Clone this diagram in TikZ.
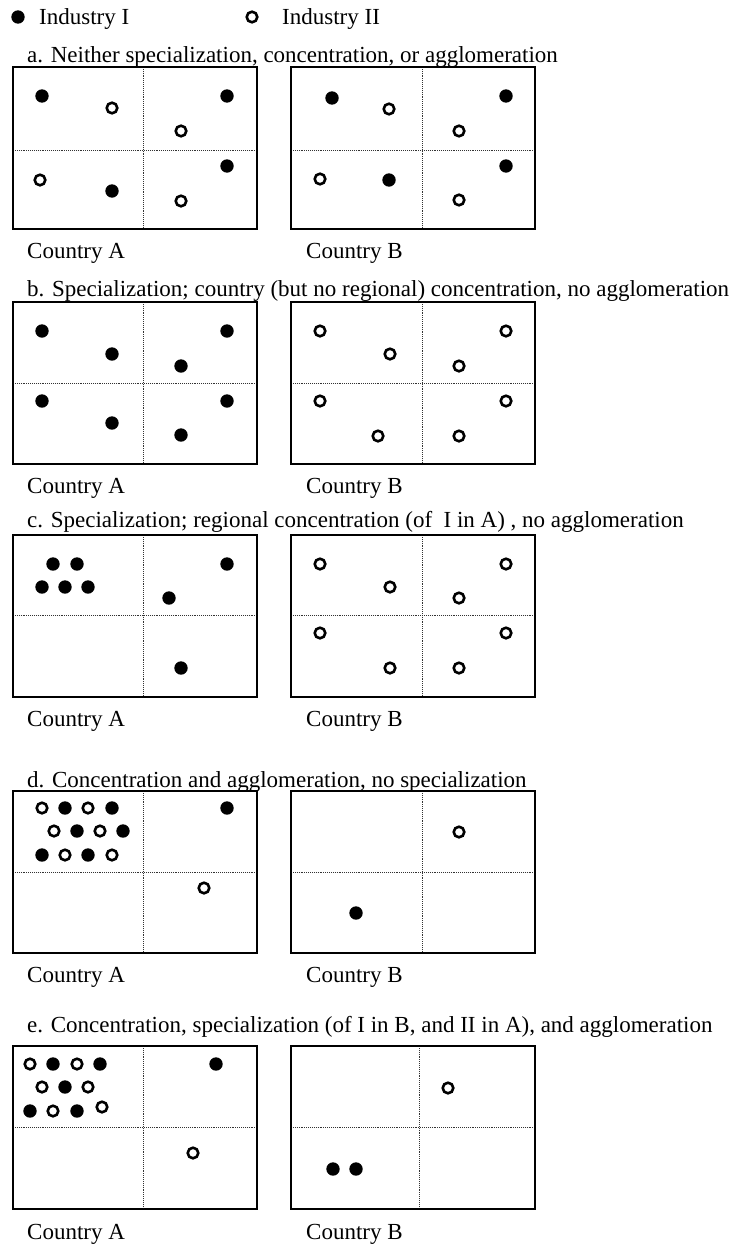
\documentclass[tikz,border=0pt]{standalone}
\usepackage{fontspec}
\setmainfont{Liberation Serif}
\begin{document}
\begin{tikzpicture}[x=1pt,y=-1pt,
  fdot/.style={circle,fill=black,inner sep=0pt,minimum size=13.4pt},
  odot/.style={circle,draw=black,line width=2.6pt,inner sep=0pt,minimum size=10.6pt},
  boxline/.style={line width=1.8pt},
  divline/.style={line width=0.7pt,black!80,dash pattern=on 0.8pt off 1.1pt},
  lbl/.style={anchor=base west,inner sep=0pt,font=\fontsize{23}{27}\selectfont}]
\useasboundingbox (0,0) rectangle (736,1247);
% legend
\node[fdot] (legF) at (18,17) {};
\node[lbl] (legFt) at (39,25) {Industry I};
\node[odot] (legO) at (252,17) {};
\node[lbl] (legOt) at (282,25) {Industry II};
% titles
\node[lbl] (ta) at (27,63) {a. Neither specialization, concentration, or agglomeration};
\node[lbl] (tb) at (27,296) {b. Specialization; country (but no regional) concentration, no agglomeration};
\node[lbl] (tc) at (27,527) {c. Specialization; regional concentration (of\ \ I in A)\ , no agglomeration};
\node[lbl] (td) at (27,787) {d. Concentration and agglomeration, no specialization};
\node[lbl] (te) at (27,1032) {e. Concentration, specialization (of I in B, and II in A), and agglomeration};
% panel a
\begin{scope}[shift={(0,67)},name prefix=a-]
  \draw[divline] (143,0) -- (143,162); \draw[divline] (13,83) -- (257,83);
  \draw[divline] (422,0) -- (422,162); \draw[divline] (291,83) -- (535,83);
  \draw[boxline] (13,0) rectangle (257,162);
  \draw[boxline] (291,0) rectangle (535,162);
  \node[fdot] (A1) at (42,29) {}; \node[odot] (A2) at (112,41) {};
  \node[odot] (A3) at (181,64) {}; \node[fdot] (A4) at (227,29) {};
  \node[odot] (A5) at (40,113) {}; \node[fdot] (A6) at (112,124) {};
  \node[fdot] (A7) at (227,99) {}; \node[odot] (A8) at (181,134) {};
  \node[fdot] (B1) at (332,31) {}; \node[odot] (B2) at (389,42) {};
  \node[odot] (B3) at (459,64) {}; \node[fdot] (B4) at (506,29) {};
  \node[odot] (B5) at (320,112) {}; \node[fdot] (B6) at (389,113) {};
  \node[fdot] (B7) at (506,99) {}; \node[odot] (B8) at (459,133) {};
  \node[lbl] (cA) at (27,191) {Country A};
  \node[lbl] (cB) at (306,191) {Country B};
\end{scope}
% panel b
\begin{scope}[shift={(0,302)},name prefix=b-]
  \draw[divline] (143,0) -- (143,162); \draw[divline] (13,81) -- (257,81);
  \draw[divline] (422,0) -- (422,162); \draw[divline] (291,81) -- (535,81);
  \draw[boxline] (13,0) rectangle (257,162);
  \draw[boxline] (291,0) rectangle (535,162);
  \node[fdot] (A1) at (42,29) {}; \node[fdot] (A2) at (112,52) {};
  \node[fdot] (A3) at (181,64) {}; \node[fdot] (A4) at (227,29) {};
  \node[fdot] (A5) at (42,99) {}; \node[fdot] (A6) at (112,121) {};
  \node[fdot] (A7) at (181,133) {}; \node[fdot] (A8) at (227,99) {};
  \node[odot] (B1) at (320,29) {}; \node[odot] (B2) at (390,52) {};
  \node[odot] (B3) at (459,64) {}; \node[odot] (B4) at (506,29) {};
  \node[odot] (B5) at (320,99) {}; \node[odot] (B6) at (378,134) {};
  \node[odot] (B7) at (459,134) {}; \node[odot] (B8) at (506,99) {};
  \node[lbl] (cA) at (27,191) {Country A};
  \node[lbl] (cB) at (306,191) {Country B};
\end{scope}
% panel c
\begin{scope}[shift={(0,535)},name prefix=c-]
  \draw[divline] (143,0) -- (143,162); \draw[divline] (13,80) -- (257,80);
  \draw[divline] (422,0) -- (422,162); \draw[divline] (291,80) -- (535,80);
  \draw[boxline] (13,0) rectangle (257,162);
  \draw[boxline] (291,0) rectangle (535,162);
  \node[fdot] (A1) at (53,29) {}; \node[fdot] (A2) at (77,29) {};
  \node[fdot] (A3) at (42,52) {}; \node[fdot] (A4) at (65,52) {};
  \node[fdot] (A5) at (88,52) {}; \node[fdot] (A6) at (227,29) {};
  \node[fdot] (A7) at (169,63) {}; \node[fdot] (A8) at (181,133) {};
  \node[odot] (B1) at (320,29) {}; \node[odot] (B2) at (390,52) {};
  \node[odot] (B3) at (459,63) {}; \node[odot] (B4) at (506,29) {};
  \node[odot] (B5) at (320,98) {}; \node[odot] (B6) at (390,133) {};
  \node[odot] (B7) at (459,133) {}; \node[odot] (B8) at (506,98) {};
  \node[lbl] (cA) at (27,191) {Country A};
  \node[lbl] (cB) at (306,191) {Country B};
\end{scope}
% panel d
\begin{scope}[shift={(0,791)},name prefix=d-]
  \draw[divline] (143,0) -- (143,162); \draw[divline] (13,81) -- (257,81);
  \draw[divline] (422,0) -- (422,162); \draw[divline] (291,81) -- (535,81);
  \draw[boxline] (13,0) rectangle (257,162);
  \draw[boxline] (291,0) rectangle (535,162);
  \node[odot] (A1) at (42,17) {}; \node[fdot] (A2) at (65,17) {};
  \node[odot] (A3) at (88,17) {}; \node[fdot] (A4) at (112,17) {};
  \node[odot] (A5) at (54,40) {}; \node[fdot] (A6) at (77,40) {};
  \node[odot] (A7) at (100,40) {}; \node[fdot] (A8) at (123,40) {};
  \node[fdot] (A9) at (42,64) {}; \node[odot] (A10) at (65,64) {};
  \node[fdot] (A11) at (88,64) {}; \node[odot] (A12) at (112,64) {};
  \node[fdot] (A13) at (227,17) {}; \node[odot] (A14) at (204,97) {};
  \node[odot] (B1) at (459,41) {}; \node[fdot] (B2) at (356,122) {};
  \node[lbl] (cA) at (27,191) {Country A};
  \node[lbl] (cB) at (306,191) {Country B};
\end{scope}
% panel e
\begin{scope}[shift={(0,1046)},name prefix=e-]
  \draw[divline] (143,0) -- (143,163); \draw[divline] (13,81) -- (257,81);
  \draw[divline] (419,0) -- (419,163); \draw[divline] (291,81) -- (535,81);
  \draw[boxline] (13,0) rectangle (257,163);
  \draw[boxline] (291,0) rectangle (535,163);
  \node[odot] (A1) at (30,18) {}; \node[fdot] (A2) at (53,18) {};
  \node[odot] (A3) at (77,18) {}; \node[fdot] (A4) at (100,18) {};
  \node[odot] (A5) at (42,41) {}; \node[fdot] (A6) at (65,41) {};
  \node[odot] (A7) at (88,41) {};
  \node[fdot] (A8) at (30,65) {}; \node[odot] (A9) at (53,65) {};
  \node[fdot] (A10) at (77,65) {}; \node[odot] (A11) at (102,61) {};
  \node[fdot] (A12) at (216,18) {}; \node[odot] (A13) at (193,107) {};
  \node[odot] (B1) at (448,42) {}; \node[fdot] (B2) at (333,123) {};
  \node[fdot] (B3) at (356,123) {};
  \node[lbl] (cA) at (27,193) {Country A};
  \node[lbl] (cB) at (306,193) {Country B};
\end{scope}
\end{tikzpicture}
\end{document}
